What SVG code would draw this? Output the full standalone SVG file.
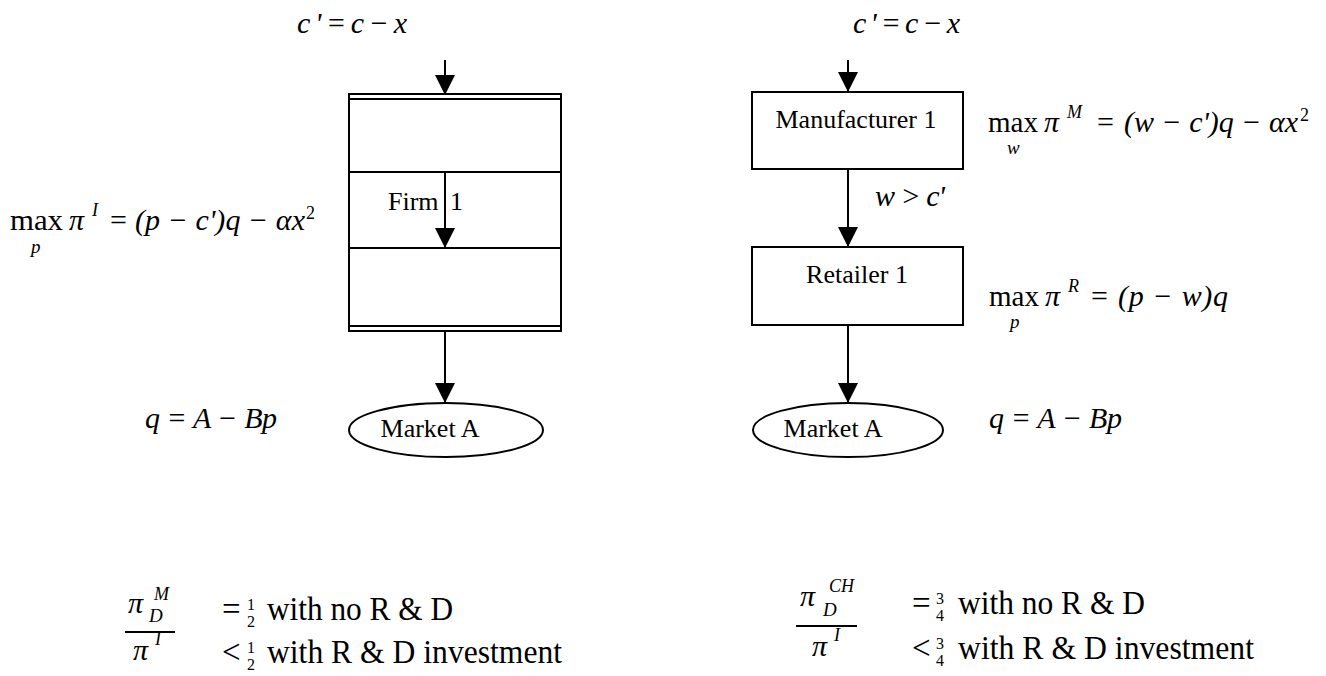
<svg xmlns="http://www.w3.org/2000/svg" width="1326" height="676" viewBox="0 0 1326 676">
<style>
.t{font-family:"Liberation Serif","Times New Roman",serif;fill:#000}
.i{font-family:"Liberation Serif","Times New Roman",serif;font-style:italic;fill:#000}
.lbl{font-size:26px}
.eq{font-size:30px}
.sub{font-size:19px}
.sup{font-size:18px}
.big{font-size:33px}
.fr{font-size:16px}
.ln{stroke:#000;stroke-width:2;fill:none}
.arr{stroke:#000;stroke-width:2;fill:none;marker-end:url(#ah)}
</style>
<defs>
<marker id="ah" viewBox="0 0 20 20" refX="20" refY="10" markerWidth="20" markerHeight="20" markerUnits="userSpaceOnUse" orient="auto">
<path d="M0,0 L20,10 L0,20 z" fill="#000"/>
</marker>
</defs>
<rect width="1326" height="676" fill="#fff"/>

<!-- Left: integrated firm -->
<g id="firm1">
<rect class="ln" x="349" y="94" width="212" height="237"/>
<line class="ln" x1="349" y1="99" x2="561" y2="99"/>
<line class="ln" x1="349" y1="172" x2="561" y2="172"/>
<line class="ln" x1="349" y1="248" x2="561" y2="248"/>
<line class="ln" x1="349" y1="326" x2="561" y2="326"/>
<text class="t lbl" x="388" y="210" word-spacing="5">Firm 1</text>
</g>
<g id="marketA-left">
<ellipse class="ln" cx="446" cy="430" rx="97" ry="27"/>
<text class="t lbl" x="430" y="437" text-anchor="middle">Market A</text>
</g>

<!-- Right: channel -->
<g id="manufacturer1">
<rect class="ln" x="752" y="92" width="211" height="77"/>
<text class="t lbl" x="856" y="128" text-anchor="middle">Manufacturer 1</text>
</g>
<g id="retailer1">
<rect class="ln" x="752" y="247" width="211" height="78"/>
<text class="t lbl" x="857" y="283" text-anchor="middle">Retailer 1</text>
</g>
<g id="marketA-right">
<ellipse class="ln" cx="848" cy="430" rx="95" ry="27"/>
<text class="t lbl" x="833" y="437" text-anchor="middle">Market A</text>
</g>

<g id="connectors">
<line class="arr" x1="445" y1="60" x2="445" y2="95"/>
<line class="arr" x1="445" y1="172" x2="445" y2="248"/>
<line class="arr" x1="445" y1="331" x2="445" y2="403"/>
<line class="arr" x1="848" y1="60" x2="848" y2="92"/>
<line class="arr" x1="848" y1="169" x2="848" y2="247"/>
<line class="arr" x1="848" y1="325" x2="848" y2="403"/>
</g>

<g id="labels">
<!-- top cost equations -->
<text class="i eq" x="297" y="33" textLength="110" lengthAdjust="spacing">c'=c−x</text>
<text class="i eq" x="853" y="33" textLength="107" lengthAdjust="spacing">c'=c−x</text>

<!-- left objective -->
<text class="t eq" x="10" y="230" textLength="53" lengthAdjust="spacingAndGlyphs">max</text>
<text class="i sub" x="31" y="253">p</text>
<text class="i eq" x="69" y="230">π</text>
<text class="i sup" x="92" y="216">I</text>
<text class="t eq" x="110" y="230">=</text>
<text class="i eq" x="135" y="230" textLength="170" lengthAdjust="spacing">(p − c')q − αx</text>
<text class="t sup" x="306" y="219">2</text>

<!-- manufacturer objective -->
<text class="t eq" x="988" y="132" textLength="50" lengthAdjust="spacingAndGlyphs">max</text>
<text class="i sub" x="1007" y="154">w</text>
<text class="i eq" x="1044" y="132">π</text>
<text class="i sup" x="1067" y="118">M</text>
<text class="t eq" x="1097" y="132">=</text>
<text class="i eq" x="1124" y="132" textLength="174" lengthAdjust="spacing">(w − c')q − αx</text>
<text class="t sup" x="1300" y="121">2</text>

<text class="i eq" x="875" y="206" textLength="70" lengthAdjust="spacing">w &gt; c'</text>

<!-- retailer objective -->
<text class="t eq" x="989" y="306" textLength="50" lengthAdjust="spacingAndGlyphs">max</text>
<text class="i sub" x="1010" y="328">p</text>
<text class="i eq" x="1045" y="306">π</text>
<text class="i sup" x="1068" y="292">R</text>
<text class="t eq" x="1091" y="306">=</text>
<text class="i eq" x="1118" y="306" textLength="110" lengthAdjust="spacing">(p − w)q</text>

<!-- demand -->
<text class="i eq" x="145" y="428" textLength="132" lengthAdjust="spacing">q = A − Bp</text>
<text class="i eq" x="989" y="428" textLength="133" lengthAdjust="spacing">q = A − Bp</text>

<!-- bottom left ratio -->
<text class="i eq" x="128" y="613">π</text>
<text class="i sub" x="149" y="622">D</text>
<text class="i sup" x="154" y="600">M</text>
<line class="ln" x1="125" y1="632" x2="175" y2="632" stroke-width="1.5"/>
<text class="i eq" x="133" y="660">π</text>
<text class="i sup" x="155" y="645">I</text>
<text class="t big" x="222" y="620">=</text>
<text class="t fr" x="247" y="610">1</text>
<text class="t fr" x="247" y="627">2</text>
<text class="t big" x="267" y="620" textLength="186" lengthAdjust="spacingAndGlyphs">with no R &amp; D</text>
<text class="t big" x="222" y="663">&lt;</text>
<text class="t fr" x="247" y="653">1</text>
<text class="t fr" x="247" y="670">2</text>
<text class="t big" x="267" y="663" textLength="295" lengthAdjust="spacingAndGlyphs">with R &amp; D investment</text>

<!-- bottom right ratio -->
<text class="i eq" x="800" y="606">π</text>
<text class="i sub" x="823" y="616">D</text>
<text class="i sup" x="829" y="592">CH</text>
<line class="ln" x1="796" y1="626" x2="857" y2="626" stroke-width="1.5"/>
<text class="i eq" x="812" y="656">π</text>
<text class="i sup" x="834" y="641">I</text>
<text class="t big" x="912" y="614">=</text>
<text class="t fr" x="936" y="604">3</text>
<text class="t fr" x="936" y="621">4</text>
<text class="t big" x="958" y="614" textLength="187" lengthAdjust="spacingAndGlyphs">with no R &amp; D</text>
<text class="t big" x="912" y="659">&lt;</text>
<text class="t fr" x="936" y="649">3</text>
<text class="t fr" x="936" y="666">4</text>
<text class="t big" x="958" y="659" textLength="296" lengthAdjust="spacingAndGlyphs">with R &amp; D investment</text>
</g>
</svg>
